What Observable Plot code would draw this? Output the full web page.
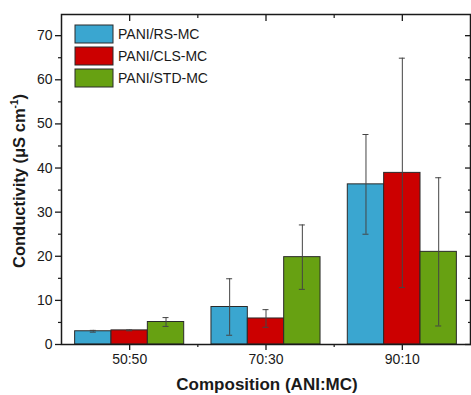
<!DOCTYPE html>
<html>
<head>
<meta charset="utf-8">
<script src="https://cdn.jsdelivr.net/npm/d3@7"></script>
<script src="https://cdn.jsdelivr.net/npm/@observablehq/plot@0.6"></script>
<style>
  html, body { margin: 0; padding: 0; background: #fff; }
  #chart { position: relative; width: 471px; height: 395px; overflow: hidden; }
</style>
</head>
<body>
<div id="chart"></div>
<script>
// ---- data ----
const compositions = ["50:50", "70:30", "90:10"];
const seriesNames = ["PANI/RS-MC", "PANI/CLS-MC", "PANI/STD-MC"];
const seriesColors = ["#3aa6d0", "#cc0000", "#67a112"];
const rsValues  = [3.0, 8.5, 36.3];
const rsErrors  = [0.2, 6.4, 11.3];
const clsValues = [3.2, 5.9, 38.9];
const clsErrors = [0.1, 2.0, 26.0];
const stdValues = [5.1, 19.8, 21.0];
const stdErrors = [1.0, 7.3, 16.8];
const yMajorTicks = [0, 10, 20, 30, 40, 50, 60, 70];
const yMinorTicks = [5, 15, 25, 35, 45, 55, 65];

const values = [rsValues, clsValues, stdValues];
const errors = [rsErrors, clsErrors, stdErrors];
const barW = 0.8 / 3;
const capHalf = 0.022;

const rows = [];
compositions.forEach((c, ci) => {
  seriesNames.forEach((s, si) => {
    const center = ci + 1 + (si - 1) * barW;
    rows.push({
      comp: c, series: s,
      x1: center - barW / 2, x2: center + barW / 2, xc: center,
      c1: center - capHalf, c2: center + capHalf,
      value: values[si][ci], err: errors[si][ci],
      lo: values[si][ci] - errors[si][ci], hi: values[si][ci] + errors[si][ci]
    });
  });
});

const font = "'Liberation Sans', Arial, sans-serif";

const plot = Plot.plot({
  width: 471,
  height: 395,
  marginLeft: 61,
  marginRight: 1,
  marginTop: 14,
  marginBottom: 51,
  style: { fontFamily: font, fontSize: "14px", color: "#1a1a1a", background: "#fff" },
  x: { domain: [0.5, 3.5], axis: null },
  y: { domain: [0, 74.8], axis: null },
  color: { domain: seriesNames, range: seriesColors },
  marks: [
    Plot.rect(rows, { x1: "x1", x2: "x2", y1: 0, y2: "value", fill: "series", stroke: "#2a2a2a", strokeWidth: 1 }),
    Plot.ruleX(rows, { x: "xc", y1: "lo", y2: "hi", stroke: "#444", strokeWidth: 1 }),
    Plot.ruleY(rows, { x1: "c1", x2: "c2", y: "lo", stroke: "#444", strokeWidth: 1 }),
    Plot.ruleY(rows, { x1: "c1", x2: "c2", y: "hi", stroke: "#444", strokeWidth: 1 }),
    // left axis
    Plot.axisY({ anchor: "left", ticks: yMajorTicks, tickSize: 6, tickPadding: 3, fontSize: 14, label: null, strokeWidth: 1.3 }),
    Plot.axisY({ anchor: "left", ticks: yMinorTicks, tickSize: 3, tickFormat: () => "", label: null, strokeWidth: 1.2 }),
    // right axis (inward)
    Plot.axisY({ anchor: "right", ticks: yMajorTicks, tickSize: -6, tickFormat: () => "", label: null, strokeWidth: 1.3 }),
    Plot.axisY({ anchor: "right", ticks: yMinorTicks, tickSize: -3, tickFormat: () => "", label: null, strokeWidth: 1.2 }),
    // bottom axis
    Plot.axisX({ anchor: "bottom", ticks: [1, 2, 3], tickSize: 6, tickPadding: 4, fontSize: 14, tickFormat: d => compositions[d - 1], label: null, strokeWidth: 1.3 }),
    Plot.axisX({ anchor: "bottom", ticks: [1.5, 2.5], tickSize: 3, tickFormat: () => "", label: null, strokeWidth: 1.2 }),
    // top axis (inward)
    Plot.axisX({ anchor: "top", ticks: [1, 2, 3], tickSize: -6, tickFormat: () => "", label: null, strokeWidth: 1.3 }),
    Plot.axisX({ anchor: "top", ticks: [1.5, 2.5], tickSize: -3, tickFormat: () => "", label: null, strokeWidth: 1.2 }),
    Plot.frame({ stroke: "#1a1a1a", strokeWidth: 1.5 })
  ]
});

document.getElementById("chart").appendChild(plot);

const svg = d3.select(plot);
// axis titles
svg.append("text")
  .attr("transform", "translate(25,181) rotate(-90)")
  .attr("text-anchor", "middle")
  .attr("font-family", font).attr("font-size", 16.5).attr("font-weight", "bold").attr("fill", "#1a1a1a")
  .html('Conductivity (<tspan>μ</tspan>S cm<tspan dy="-7" font-size="10">-1</tspan><tspan dy="7">)</tspan>');
svg.append("text")
  .attr("x", 267).attr("y", 390)
  .attr("text-anchor", "middle")
  .attr("font-family", font).attr("font-size", 17).attr("font-weight", "bold").attr("fill", "#1a1a1a")
  .text("Composition (ANI:MC)");

// legend
const lg = svg.append("g").attr("transform", "translate(75,25)");
seriesNames.forEach((s, i) => {
  lg.append("rect").attr("x", 0).attr("y", i * 22).attr("width", 38).attr("height", 18)
    .attr("fill", seriesColors[i]).attr("stroke", "#2a2a2a").attr("stroke-width", 1);
  lg.append("text").attr("x", 43).attr("y", i * 22 + 14)
    .attr("text-anchor", "start")
    .attr("font-family", font).attr("font-size", 14).attr("fill", "#1a1a1a").text(s);
});
</script>
</body>
</html>
